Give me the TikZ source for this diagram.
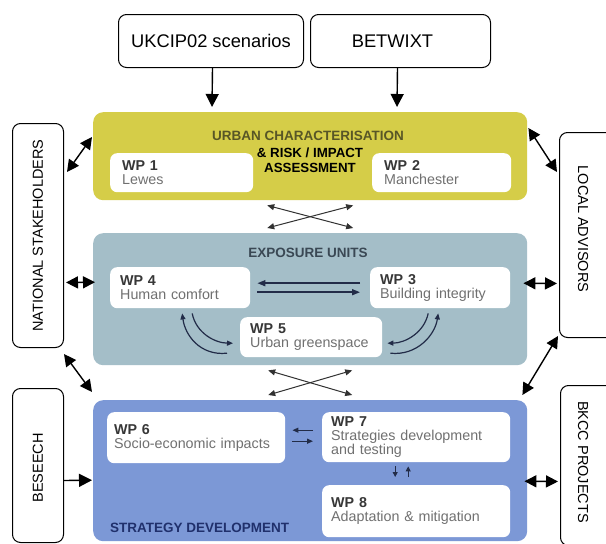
\documentclass[tikz,border=0pt]{standalone}
\usepackage{fontspec}
\setmainfont{Liberation Sans}
\usetikzlibrary{arrows.meta,calc}
\definecolor{ylw}{RGB}{213,205,72}
\definecolor{bgrey}{RGB}{164,190,200}
\definecolor{bblue}{RGB}{124,152,214}
\definecolor{ytitle}{RGB}{88,86,38}
\definecolor{etitle}{RGB}{58,72,84}
\definecolor{stitle}{RGB}{32,48,108}
\definecolor{wplab}{RGB}{55,55,55}
\definecolor{wpsub}{RGB}{112,112,112}
\definecolor{navy}{RGB}{34,44,72}
\newcommand{\wpt}[2]{{\color{wplab}\bfseries #1}\\{\color{wpsub}#2}}
\begin{document}
\begin{tikzpicture}[x=1pt,y=-1pt,
  panel/.style={rounded corners=10pt, anchor=north west, inner sep=0pt},
  wpb/.style={fill=white, rounded corners=7pt, anchor=north west, inner xsep=12pt, inner ysep=0pt, align=left, font=\fontsize{14.3}{14}\selectfont},
  outbox/.style={draw=black, line width=1pt, rounded corners=8pt, anchor=north west, inner sep=0pt},
  toptxt/.style={font=\fontsize{18.3}{20}\selectfont},
  sidetxt/.style={font=\fontsize{14.5}{16}\selectfont},
  ttl/.style={font=\fontsize{13.5}{15}\selectfont\bfseries, inner sep=0pt},
  bigarrow/.style={line width=1.4pt, -{Triangle[length=13pt,width=13pt]}},
  bigdbl/.style={line width=1.4pt, {Triangle[length=12pt,width=12pt]}-{Triangle[length=12pt,width=12pt]}},
  crossarr/.style={line width=1pt, draw={rgb,255:red,50;green,50;blue,50}, {Triangle[length=7pt,width=6pt]}-{Triangle[length=7pt,width=6pt]}},
  inarrow/.style={line width=1.5pt, draw=navy, -{Triangle[length=8pt,width=6pt]}},
  smallarrow/.style={line width=1.2pt, draw=navy, -{Triangle[length=6pt,width=5pt]}},
  tinyarrow/.style={line width=1pt, draw=navy, -{Triangle[length=5pt,width=5pt]}}
]
\useasboundingbox (0,0) rectangle (606,544);
\fill[white] (0,0) rectangle (606,544);

% top boxes
\node[outbox, minimum width=185pt, minimum height=53pt] (ukcip) at (118,14) {};
\node[toptxt] (ukciptxt) at (ukcip.center) {UKCIP02 scenarios};
\node[outbox, minimum width=180pt, minimum height=53pt] (betwixt) at (310,14) {};
\node[toptxt] (betwixttxt) at ($(betwixt.center)+(-8,0)$) {BETWIXT};

% panels
\node[panel, fill=ylw, minimum width=434pt, minimum height=88pt] (yellow) at (93,112) {};
\node[panel, fill=bgrey, minimum width=434pt, minimum height=132pt] (bluegrey) at (93,233) {};
\node[panel, fill=bblue, minimum width=434pt, minimum height=141pt] (blue) at (93,400) {};

% titles
\node[ttl, text=ytitle] (ytit) at (308,136) {URBAN CHARACTERISATION};
\node[font=\fontsize{13.3}{15}\selectfont\bfseries, align=center, inner sep=0pt] (risk) at (310,160) {\& RISK / IMPACT\\ASSESSMENT};
\node[ttl, text=etitle] (etit) at (308,253) {EXPOSURE UNITS};
\node[ttl, text=stitle, anchor=west] (stit) at (110,528) {STRATEGY DEVELOPMENT};

% WP boxes
\node[wpb, minimum width=143pt, minimum height=39pt, text width=119pt] (wp1) at (110,153) {\wpt{WP 1}{Lewes}};
\node[wpb, minimum width=139pt, minimum height=39pt, text width=115pt] (wp2) at (372,153) {\wpt{WP 2}{Manchester}};
\node[wpb, minimum width=140pt, minimum height=41pt, text width=120pt, inner xsep=10pt] (wp4) at (110,267) {\wpt{WP 4}{Human comfort}};
\node[wpb, minimum width=140pt, minimum height=41pt, text width=120pt, inner xsep=10pt] (wp3) at (370,267) {\wpt{WP 3}{Building integrity}};
\node[wpb, minimum width=142pt, minimum height=40pt, text width=122pt, inner xsep=10pt] (wp5) at (240,317) {\wpt{WP 5}{Urban greenspace}};
\node[wpb, minimum width=178pt, minimum height=51pt, text width=164pt, inner xsep=7pt] (wp6) at (107,412) {\wpt{WP 6}{Socio-economic impacts}};
\node[wpb, minimum width=188pt, minimum height=50pt, text width=170pt, inner xsep=9pt] (wp7) at (322,412) {{\color{wplab}\bfseries WP 7}\\{\color{wpsub}Strategies development}\\{\color{wpsub}and testing}};
\node[wpb, minimum width=188pt, minimum height=52pt, text width=170pt, inner xsep=9pt] (wp8) at (322,485) {\wpt{WP 8}{Adaptation \& mitigation}};

% side boxes
\node[outbox, minimum width=51pt, minimum height=224pt] (ns) at (12,123) {};
\node[sidetxt, rotate=90] (nstxt) at (ns.center) {NATIONAL STAKEHOLDERS};
\node[outbox, minimum width=51pt, minimum height=154pt] (bes) at (12,388) {};
\node[sidetxt, rotate=90] (bestxt) at (38,468) {BESEECH};
\node[outbox, minimum width=61pt, minimum height=205pt] (la) at (559,132) {};
\node[sidetxt, rotate=-90] (latxt) at (583,229) {LOCAL ADVISORS};
\node[outbox, minimum width=61pt, minimum height=160pt] (bkcc) at (560,385) {};
\node[sidetxt, rotate=-90] (bkcctxt) at (583,462) {BKCC PROJECTS};

% top arrows
\draw[bigarrow] ($(ukcip.south)+(1.5,0)$) -- ($(yellow.north west)+(119,-5)$);
\draw[bigarrow] ($(betwixt.south)+(-3,0)$) -- ($(yellow.north west)+(304,-5)$);

% left side arrows
\draw[bigdbl] ($(ns.north east)+(3,49)$) -- ($(yellow.north west)+(-1,25)$);
\draw[bigdbl] ($(ns.east)+(2,47)$) -- ($(bluegrey.west)+(2,-17)$);
\draw[bigdbl] ($(ns.south east)+(0,6)$) -- ($(blue.north west)+(-1,-8)$);
\draw[bigarrow] ($(bes.east)+(0,15)$) -- ($(blue.west)+(-1,9.5)$);

% right side arrows
\draw[bigdbl] ($(yellow.north east)+(1,16)$) -- ($(la.north west)+(-2,40)$);
\draw[bigdbl] ($(bluegrey.east)+(-4,-16)$) -- ($(la.west)+(-2,48.5)$);
\draw[bigdbl] ($(la.south west)+(-1,-2)$) -- ($(blue.north east)+(-5,-5)$);
\draw[bigdbl] ($(blue.east)+(-3,10.5)$) -- ($(bkcc.west)+(-2,16)$);

% crossing arrows between panels
\draw[crossarr] ($(yellow.south)+(-43,5)$) -- ($(bluegrey.north)+(43,-5)$);
\draw[crossarr] ($(yellow.south)+(43,5)$) -- ($(bluegrey.north)+(-43,-5)$);
\draw[crossarr] ($(bluegrey.south)+(-42,5)$) -- ($(blue.north)+(42,-5)$);
\draw[crossarr] ($(bluegrey.south)+(42,5)$) -- ($(blue.north)+(-42,-5)$);

% exposure units internal
\draw[inarrow] ($(wp3.west)+(-10,-4.5)$) -- ($(wp4.east)+(7,-4.5)$);
\draw[inarrow] ($(wp4.east)+(7,4.5)$) -- ($(wp3.west)+(-10,4.5)$);
\draw[smallarrow] ($(wp5.west)+(-13,16)$) .. controls (200,356) and (185,335) .. ($(wp4.south)+(2,5)$);
\draw[smallarrow] ($(wp4.south)+(12,5)$) .. controls (196,333) and (215,343) .. ($(wp5.west)+(-7,6)$);
\draw[smallarrow] ($(wp3.south)+(-12,5)$) .. controls (424,333) and (405,343) .. ($(wp5.east)+(5,6)$);
\draw[smallarrow] ($(wp5.east)+(8,16)$) .. controls (417,356) and (435,335) .. ($(wp3.south)+(-2,5)$);

% strategy internal
\draw[smallarrow] ($(wp7.west)+(-9,-7)$) -- ($(wp6.east)+(7,-7.5)$);
\draw[smallarrow] ($(wp6.east)+(7,3.5)$) -- ($(wp7.west)+(-9,4)$);
\draw[tinyarrow] ($(wp7.south)+(-21,4)$) -- ($(wp8.north)+(-21,-8)$);
\draw[tinyarrow] ($(wp8.north)+(-8,-8)$) -- ($(wp7.south)+(-8,4)$);
\end{tikzpicture}
\end{document}
